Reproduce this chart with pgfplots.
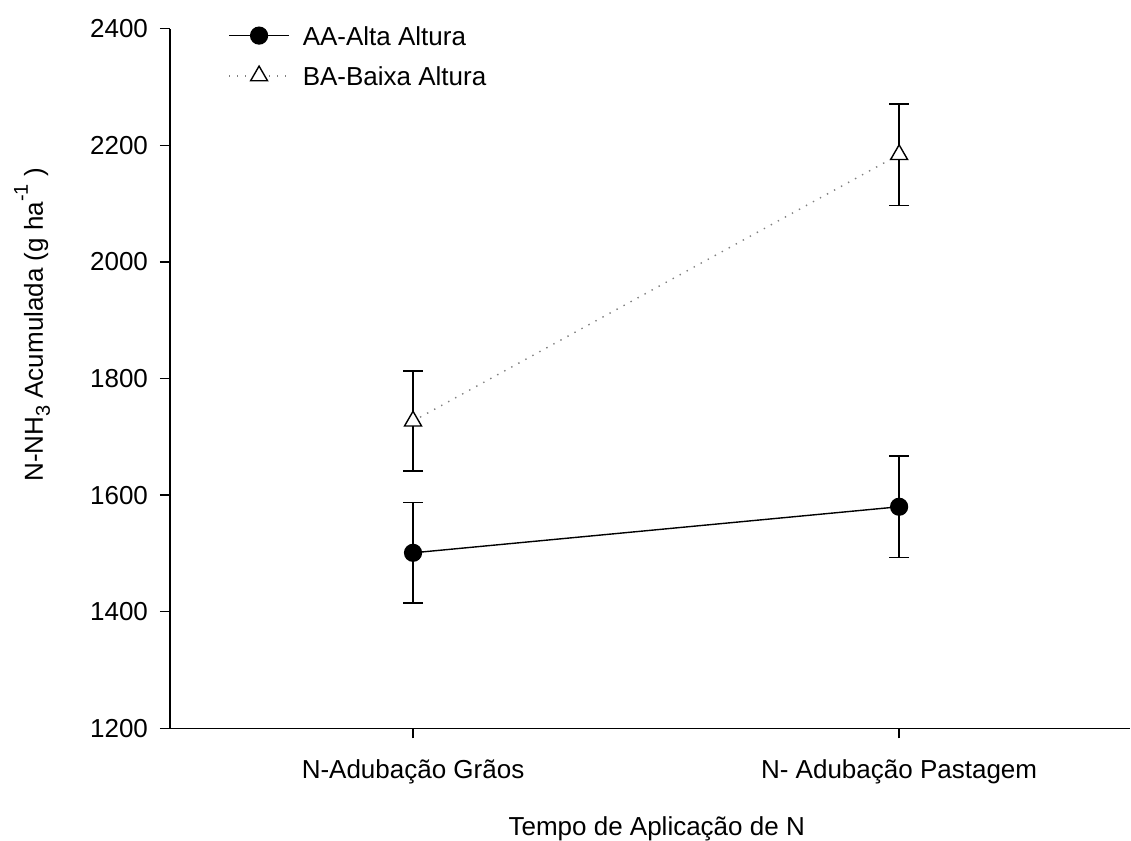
\documentclass[border=0pt]{standalone}
\usepackage{fontspec}
\setmainfont{Liberation Sans}
\usepackage{pgfplots}
\pgfplotsset{compat=1.18}

\newcommand{\chartfont}{\fontsize{13pt}{15.6pt}\selectfont}
\newcommand{\smallidx}{\fontsize{10pt}{12pt}\selectfont}

\begin{document}
\begin{tikzpicture}
\begin{axis}[
  name=ax,
  scale only axis,
  width=480pt, height=349.8pt,
  xmin=0.5, xmax=2.475,
  ymin=1200, ymax=2400,
  axis x line=bottom, axis y line=left,
  axis line style={-, line width=0.7pt},
  xtick={1,2},
  xticklabels={N-Adubação Grãos, N- Adubação Pastagem},
  ytick={1200,1400,...,2400},
  tick align=outside,
  major tick length=5pt,
  tick style={black, line width=0.7pt},
  /pgf/number format/assume math mode=true,
  /pgf/number format/1000 sep={},
  tick label style={font=\chartfont},
  label style={font=\chartfont},
  yticklabel style={anchor=east, xshift=-2.5pt},
  xticklabel style={anchor=base, yshift=-20pt},
  xlabel={Tempo de Aplicação de N},
  xlabel style={at={(axis description cs:0.507,0)}, anchor=base, yshift=-53.5pt},
  ylabel={N-NH\raisebox{-3.5pt}{\smallidx 3} Acumulada (g ha\raisebox{7.5pt}{\smallidx -1}\ )},
  ylabel style={at={(axis description cs:-0.1323,0.5765)}, anchor=base},
  legend style={
    font=\chartfont,
    draw=none, fill=none,
    at={(axis description cs:0.0604,1.0)}, anchor=north west,
    yshift=1.5pt,
    inner sep=0pt,
    nodes={inner sep=0pt, text height=9.5pt, text depth=0pt},
    row sep=10.5pt, column sep=6.5pt,
  },
  legend cell align=left,
  legend image code/.code={
    \draw[mark repeat=2, mark phase=2, #1]
      plot coordinates {(0pt,0pt) (15pt,0pt) (30pt,0pt)};
  },
  clip=false,
]

% AA - Alta Altura
\addplot[black, line width=0.7pt,
  mark=*, mark size=4.2pt,
  error bars/.cd, y dir=both, y explicit,
  error bar style={black, solid, line width=0.7pt},
  error mark options={rotate=90, mark size=5pt, black, solid, line width=0.7pt}]
  coordinates {(1,1501) +- (0,86) (2,1580) +- (0,87)};
\addlegendentry{AA-Alta Altura}

% BA - Baixa Altura
\addplot[gray, line width=0.7pt, dash pattern=on 0.7pt off 3.3pt,
  mark=triangle*, mark size=4.9pt,
  mark options={solid, fill=white, draw=black, line width=0.7pt},
  error bars/.cd, y dir=both, y explicit,
  error bar style={black, solid, line width=0.7pt},
  error mark options={rotate=90, mark size=5pt, black, solid, line width=0.7pt}]
  coordinates {(1,1727) +- (0,86) (2,2184) +- (0,87)};
\addlegendentry{BA-Baixa Altura}

\end{axis}
\pgfresetboundingbox
\path[use as bounding box]
  ([xshift=-85pt, yshift=-56.35pt]ax.south west)
  rectangle ([xshift=0.5pt, yshift=14.35pt]ax.north east);
\end{tikzpicture}
\end{document}
